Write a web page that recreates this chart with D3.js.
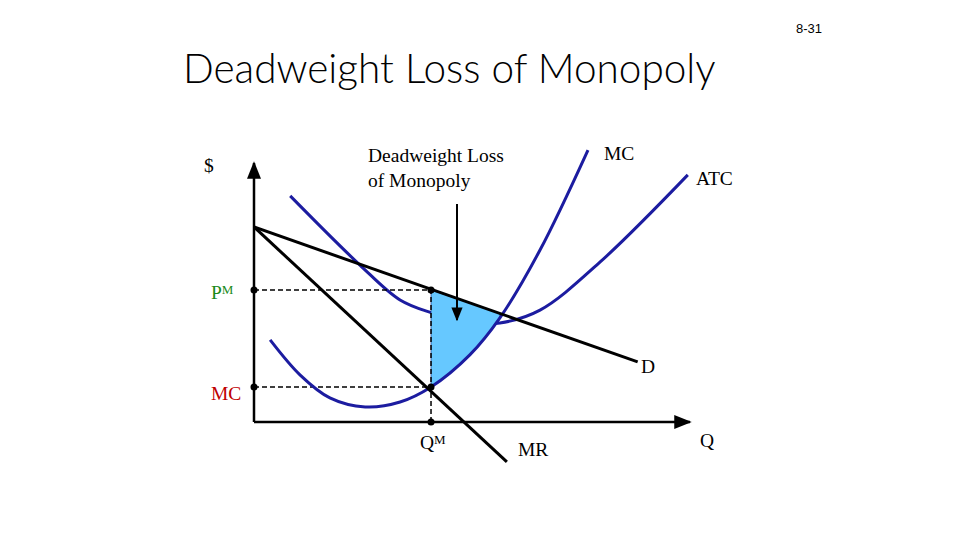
<!DOCTYPE html>
<html>
<head>
<script src="https://cdn.jsdelivr.net/npm/d3@7"></script>
<style>body{margin:0;background:#fff}</style>
</head>
<body>
<svg id="chart" width="960" height="540"></svg>
<script>
// curve data, in (Q, $) units 0..100
var mcCurve = [[3.7,31.7],[10.6,18.1],[17.4,9.3],[25.5,5.8],[33.5,7.7],[40.6,13.5],[49.5,25.9],[56.4,40.2],[65.6,66.4],[76.6,105]];
var atcCurve = [[8.3,87.3],[24.3,60.6],[33.5,47.1],[40.8,42.1],[49.5,38.2],[56.4,38.2],[65.6,43.2],[79.4,61.8],[99.5,95.4]];
var demand = [[0,75.3],[88,23.2]];
var marginalRevenue = [[0,75.3],[58,-15.4]];
var qM = 40.6, pM = 51, mcM = 13.5;
var dwlMC = [[40.6,13.5],[49.5,25.9],[56.4,40.2]];
var dwlTop = [[56.4,41.9],[40.6,51]];

var svg = d3.select('#chart');
var x = d3.scaleLinear().domain([0,100]).range([254,690]);
var y = d3.scaleLinear().domain([0,100]).range([422,163]);
var smooth = d3.line().x(d => x(d[0])).y(d => y(d[1])).curve(d3.curveCatmullRom);
var straight = d3.line().x(d => x(d[0])).y(d => y(d[1]));

svg.append('defs').append('marker').attr('id','arr').attr('viewBox','0 0 10 10')
  .attr('refX',9).attr('refY',5).attr('markerWidth',7).attr('markerHeight',7).attr('orient','auto')
  .append('path').attr('d','M0,1L10,5L0,9Z').attr('fill','#000');

svg.append('text').attr('x',183).attr('y',83).attr('font-family','Lato').attr('font-weight',300)
  .attr('font-size',40.5).text('Deadweight Loss of Monopoly');
svg.append('text').attr('x',822).attr('y',33).attr('text-anchor','end').attr('font-family','Liberation Sans')
  .attr('font-size',13).text('8-31');

// axes
svg.append('line').attr('x1',x(0)).attr('y1',y(0)).attr('x2',x(0)).attr('y2',y(100))
  .attr('stroke','#000').attr('stroke-width',2.5).attr('marker-end','url(#arr)');
svg.append('line').attr('x1',x(0)).attr('y1',y(0)).attr('x2',x(100)).attr('y2',y(0))
  .attr('stroke','#000').attr('stroke-width',2.5).attr('marker-end','url(#arr)');

// ATC behind the shaded area
svg.append('path').attr('d', smooth(atcCurve)).attr('fill','none').attr('stroke','#1c1ca0').attr('stroke-width',3);

// dead weight loss area
svg.append('path').attr('d', smooth(dwlMC) + 'L' + dwlTop.map(d => x(d[0]) + ',' + y(d[1])).join('L') + 'Z')
  .attr('fill','#66c8ff').attr('stroke','#1a3a8a').attr('stroke-width',0.7);

// dashed guides
svg.append('path').attr('d', straight([[0,pM],[qM,pM],[qM,0]])).attr('fill','none')
  .attr('stroke','#000').attr('stroke-width',1.5).attr('stroke-dasharray','5,3');
svg.append('path').attr('d', straight([[0,mcM],[qM,mcM]])).attr('fill','none')
  .attr('stroke','#000').attr('stroke-width',1.5).attr('stroke-dasharray','5,3');

svg.append('path').attr('d', smooth(mcCurve)).attr('fill','none').attr('stroke','#1c1ca0').attr('stroke-width',3);
svg.append('path').attr('d', straight(demand)).attr('stroke','#000').attr('stroke-width',3);
svg.append('path').attr('d', straight(marginalRevenue)).attr('stroke','#000').attr('stroke-width',3);

[[0,pM],[0,mcM],[qM,0],[qM,pM],[qM,mcM]].forEach(function(p){
  svg.append('circle').attr('cx',x(p[0])).attr('cy',y(p[1])).attr('r',3.5).attr('fill','#000');
});

// arrow pointing at area
svg.append('line').attr('x1',457).attr('y1',204).attr('x2',457).attr('y2',320)
  .attr('stroke','#000').attr('stroke-width',2).attr('marker-end','url(#arr)');

var fs = 19.5;
var labels = [
  ['$',204,172,'#000'],['MC',604,160,'#000'],['ATC',696,185,'#000'],['D',641,373,'#000'],
  ['MR',518,456,'#000'],['Q',700,447,'#000'],['MC',211,400,'#c00000']
];
labels.forEach(function(l){
  svg.append('text').attr('x',l[1]).attr('y',l[2]).attr('fill',l[3])
    .attr('font-family','Liberation Serif').attr('font-size',fs).text(l[0]);
});
var t1 = svg.append('text').attr('font-family','Liberation Serif').attr('font-size',fs);
t1.append('tspan').attr('x',368).attr('y',162).text('Deadweight Loss');
t1.append('tspan').attr('x',368).attr('y',187).text('of Monopoly');
var pm = svg.append('text').attr('x',211).attr('y',299).attr('fill','#1a8a1a').attr('font-family','Liberation Serif').attr('font-size',fs);
pm.append('tspan').text('P');
pm.append('tspan').attr('font-size',13).attr('dy',-5).text('M');
var qm = svg.append('text').attr('x',420).attr('y',449).attr('font-family','Liberation Serif').attr('font-size',fs);
qm.append('tspan').text('Q');
qm.append('tspan').attr('font-size',13).attr('dy',-5).text('M');
</script>
</body>
</html>
